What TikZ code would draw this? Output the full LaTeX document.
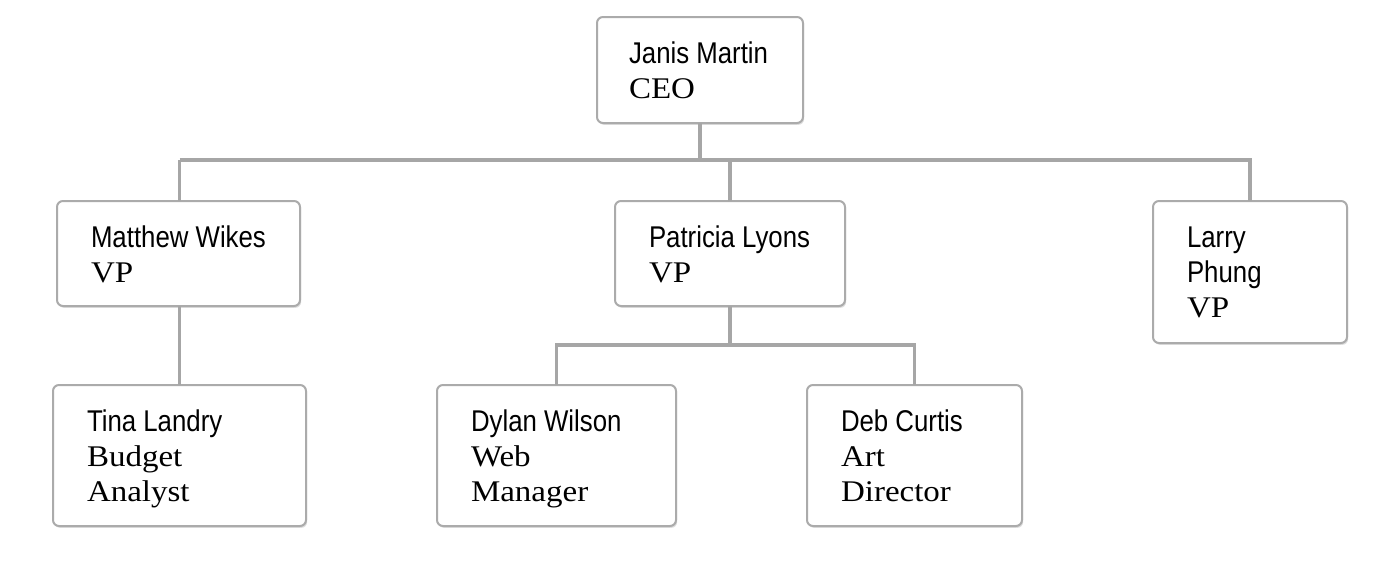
\documentclass[tikz,border=0pt]{standalone}
\usepackage{fontspec}
\setmainfont[FakeStretch=1.1]{Liberation Serif}
\newfontfamily\namefont[FakeStretch=0.86]{Liberation Sans}
\usetikzlibrary{shadows}
\definecolor{linegray}{HTML}{A6A6A6}
\definecolor{boxgray}{HTML}{ABABAB}
\tikzset{
  orgbox/.style={draw=boxgray, line width=1.5pt, rounded corners=4.5pt, fill=white,
    inner sep=0pt, outer sep=0pt, anchor=north west,
    drop shadow={shadow xshift=0.9pt, shadow yshift=-1.4pt, fill=black, opacity=0.13}},
  orgtxt/.style={anchor=north west, inner sep=0pt, outer sep=0pt, align=left,
    font=\fontsize{22.5}{26.25}\selectfont},
  conn/.style={draw=linegray, line width=2.5pt, line join=miter}
}
\newcommand\firstline{\rule{0pt}{18.4pt}}
\newcommand\nm[1]{{\fontsize{22.5}{26.25}\namefont #1}}
\begin{document}
\begin{tikzpicture}[x=0.75pt, y=-0.75pt]
\useasboundingbox (0,0) rectangle (1388,576);
\coordinate (bus1) at (0,160);
\coordinate (bus2) at (0,345);
\node[orgbox, minimum width={206*0.75pt}, minimum height={106*0.75pt}] (ceo) at (597,17) {};
\node[orgbox, minimum width={243*0.75pt}, minimum height={105*0.75pt}] (mw) at (57,201) {};
\node[orgbox, minimum width={230*0.75pt}, minimum height={105*0.75pt}] (pl) at (615,201) {};
\node[orgbox, minimum width={194*0.75pt}, minimum height={142*0.75pt}] (lp) at (1153,201) {};
\node[orgbox, minimum width={253*0.75pt}, minimum height={141*0.75pt}] (tl) at (53,385) {};
\node[orgbox, minimum width={239*0.75pt}, minimum height={141*0.75pt}] (dw) at (437,385) {};
\node[orgbox, minimum width={215*0.75pt}, minimum height={141*0.75pt}] (dc) at (807,385) {};

\draw[conn] (ceo.south) -- (ceo.south |- bus1);
\draw[conn] (tl.north |- bus1) -- (lp.north |- bus1) -- (lp.north);
\draw[conn] (tl.north |- bus1) -- (tl.north |- mw.north);
\draw[conn] (pl.north) -- (pl.north |- bus1);
\draw[conn] (tl.north |- mw.south) -- (tl.north);
\draw[conn] (pl.south) -- (pl.south |- bus2);
\draw[conn] (dw.north) -- (dw.north |- bus2) -- (dc.north |- bus2) -- (dc.north);

\node[orgtxt] (ceoT) at ([xshift=24pt, yshift=-16.1pt]ceo.north west)
  {\firstline\nm{Janis Martin}\\CEO};
\node[orgtxt] (mwT) at ([xshift=25.5pt, yshift=-16.5pt]mw.north west)
  {\firstline\nm{Matthew Wikes}\\VP};
\node[orgtxt] (plT) at ([xshift=25.5pt, yshift=-16.5pt]pl.north west)
  {\firstline\nm{Patricia Lyons}\\VP};
\node[orgtxt] (lpT) at ([xshift=25.5pt, yshift=-16.5pt]lp.north west)
  {\firstline\nm{Larry}\\\nm{Phung}\\VP};
\node[orgtxt] (tlT) at ([xshift=25.5pt, yshift=-16.5pt]tl.north west)
  {\firstline\nm{Tina Landry}\\Budget\\Analyst};
\node[orgtxt] (dwT) at ([xshift=25.5pt, yshift=-16.5pt]dw.north west)
  {\firstline\nm{Dylan Wilson}\\Web\\Manager};
\node[orgtxt] (dcT) at ([xshift=25.5pt, yshift=-16.5pt]dc.north west)
  {\firstline\nm{Deb Curtis}\\Art\\Director};
\end{tikzpicture}
\end{document}
